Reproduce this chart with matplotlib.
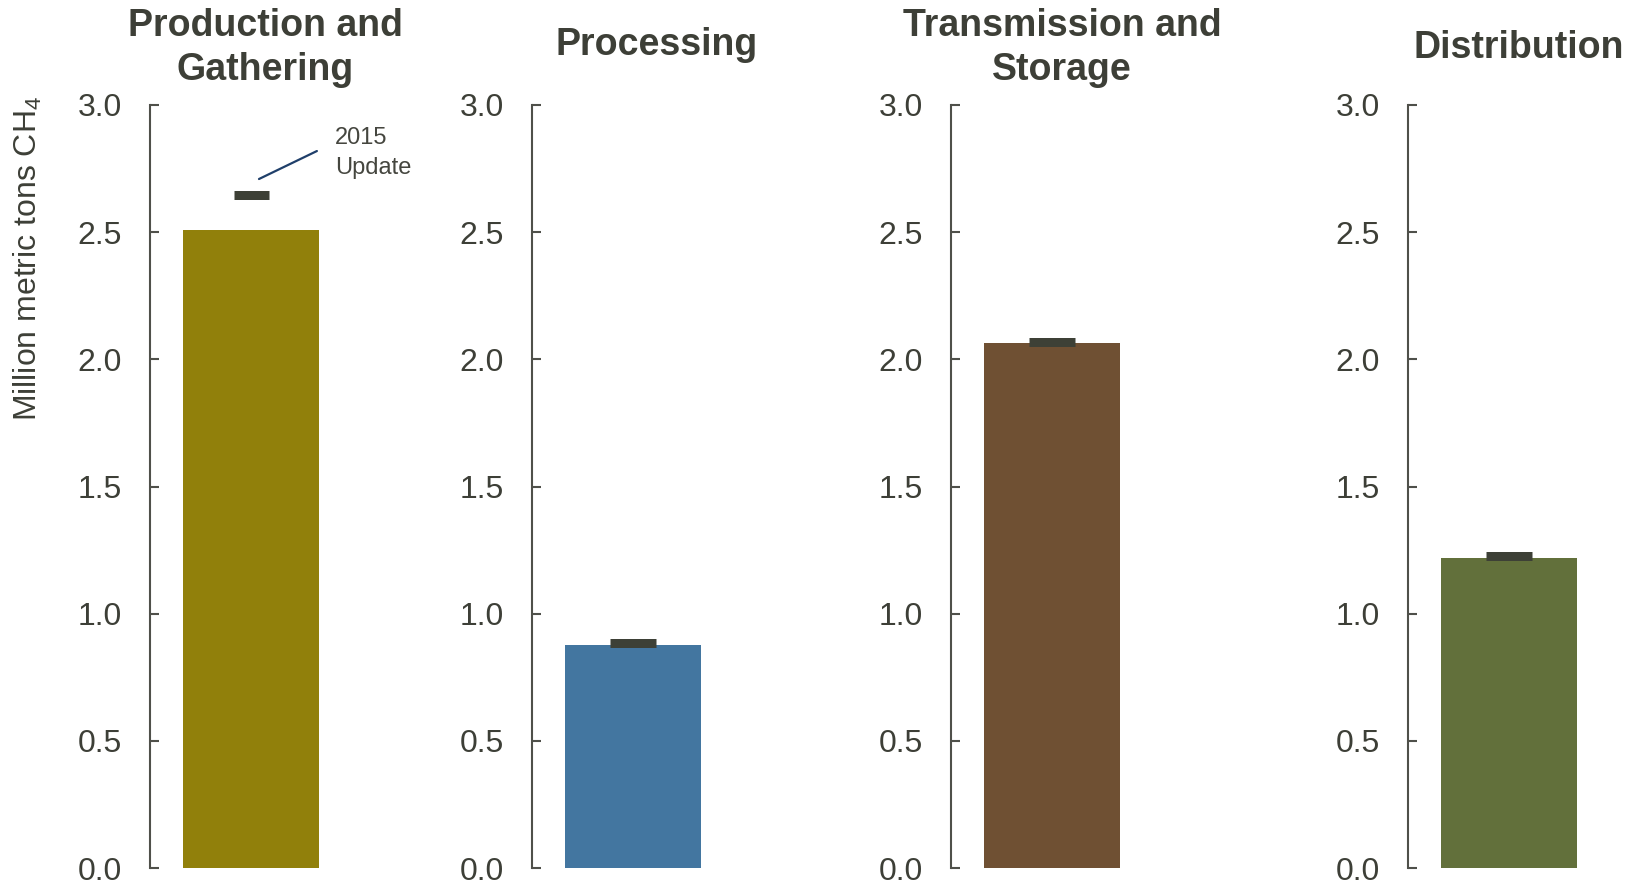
import matplotlib
matplotlib.use("Agg")
import matplotlib.pyplot as plt
import matplotlib.transforms as mtransforms

plt.rcParams['font.family'] = ['Liberation Sans', 'DejaVu Sans']
plt.rcParams['mathtext.default'] = 'regular'

# ---- data ----
segments = ["Production and\nGathering", "Processing", "Transmission and\nStorage", "Distribution"]
inventory = [2.51, 0.875, 2.063, 1.217]
update_2015 = [2.645, 0.885, 2.07, 1.225]
bar_colors = ["#91800b", "#4376a0", "#6f5033", "#62703b"]
yticks = [0.0, 0.5, 1.0, 1.5, 2.0, 2.5, 3.0]
ylabel = "Million metric tons CH$_4$"
annot_text = "2015\nUpdate"

# ---- layout (pixels) ----
W, H = 1634, 885
DPI = 100
lefts = [150, 532, 951, 1408]
widths = [230, 249, 222, 221]
title_y = [48, 45, 48, 48]
marker_w = [35, 46, 46, 46]
top_px, bot_px = 105, 868
px_per_unit_x = 228.0
x0 = -0.443

text_col = "#3d3f37"
spine_col = "#4f504a"
mark_col = "#3d4036"

fig = plt.figure(figsize=(W / DPI, H / DPI), dpi=DPI)

for i in range(4):
    ax = fig.add_axes([lefts[i] / W, (H - bot_px) / H, widths[i] / W, (bot_px - top_px) / H])
    ax.bar([0], [inventory[i]], width=0.6, color=bar_colors[i], zorder=2)
    ax.plot([0], [update_2015[i]], marker='_', linestyle='none',
            markersize=marker_w[i] * 72 / DPI, mew=9 * 72 / DPI, color=mark_col, zorder=3)
    ax.set_xlim(x0, x0 + widths[i] / px_per_unit_x)
    ax.set_ylim(0, 3.0)
    ax.set_yticks(yticks)
    ax.set_yticklabels([f"{t:.1f}" for t in yticks])
    ax.set_xticks([])
    for s in ['top', 'right', 'bottom']:
        ax.spines[s].set_visible(False)
    ax.spines['left'].set_color(spine_col)
    ax.spines['left'].set_linewidth(1.5)
    ax.tick_params(axis='y', direction='in', length=6.5, width=1.5, color=spine_col,
                   labelsize=23, labelcolor=text_col, pad=20)
    ax.patch.set_visible(False)
    trans = mtransforms.blended_transform_factory(ax.transAxes, fig.transFigure)
    ax.text(0.5, 1 - title_y[i] / H, segments[i], transform=trans, ha='center', va='center',
            fontsize=27, fontweight='bold', color=text_col, linespacing=1.28)
    if i == 0:
        ax.annotate('', xy=(0.035, 2.709), xytext=(0.289, 2.819),
                    arrowprops=dict(arrowstyle='-', color='#1f3f6a', lw=1.6,
                                    shrinkA=0, shrinkB=0))
        ax.text(0.368, 2.912, annot_text, ha='left', va='top', fontsize=17,
                color='#45463f', linespacing=1.45)

fig.text(28 / W, 1 - 258 / H, ylabel, rotation=90, ha='center', va='center',
         fontsize=23, color=text_col)

fig.savefig("out.png", dpi=DPI, facecolor='white')
